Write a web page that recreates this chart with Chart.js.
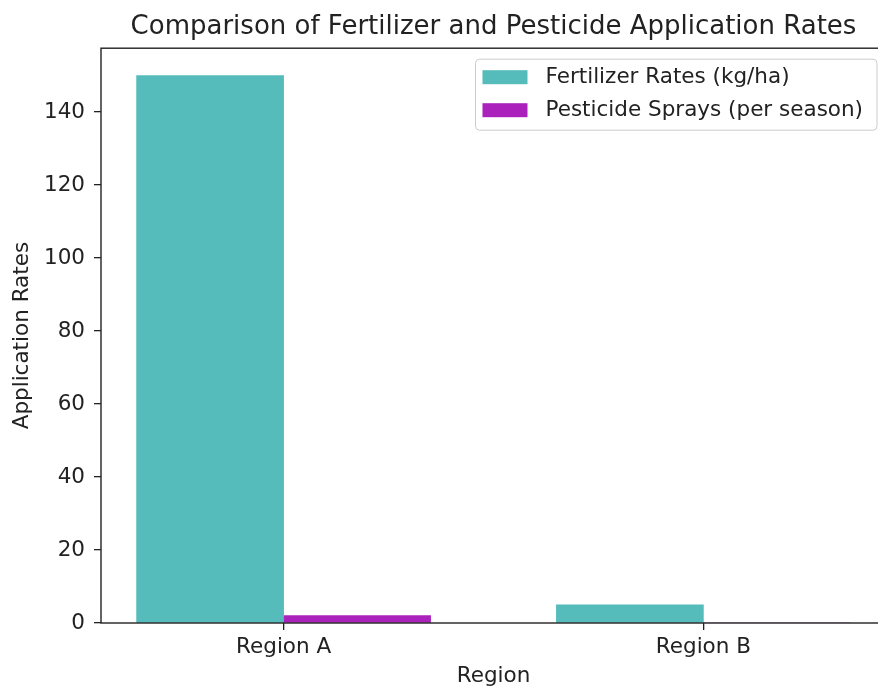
<!DOCTYPE html>
<html>
<head>
<meta charset="utf-8">
<script src="https://cdn.jsdelivr.net/npm/chart.js@4"></script>
<style>
  body { margin: 0; background: #fff; }
  #wrap { width: 878px; height: 687px; overflow: hidden; }
</style>
</head>
<body>
<div id="wrap"><canvas id="chart" width="900" height="700"></canvas></div>
<script>
// data
const regions = ["Region A", "Region B"];
const fertilizer = [150, 5];
const pesticide = [2, 0];
const yTicks = [0, 20, 40, 60, 80, 100, 120, 140];

const FONT = "'DejaVu Sans', sans-serif";
const INK = "#222222";

// matplotlib draws spines over the bars, so draw the frame last
const frame = {
  id: "frame",
  afterDatasetsDraw(chart) {
    const a = chart.chartArea, ctx = chart.ctx;
    ctx.save();
    ctx.strokeStyle = INK;
    ctx.lineWidth = 1.4;
    ctx.strokeRect(a.left, a.top, a.right - a.left, a.bottom - a.top);
    ctx.restore();
  }
};

// boxed legend in the upper right corner of the axes
const boxLegend = {
  id: "boxLegend",
  afterDraw(chart) {
    const a = chart.chartArea, ctx = chart.ctx;
    ctx.save();
    ctx.font = "21.5px " + FONT;
    const sets = chart.data.datasets;
    let tw = 0;
    sets.forEach(d => { tw = Math.max(tw, ctx.measureText(d.label).width); });
    const w = 7 + 45 + 18 + tw + 14;
    const right = a.right - 9, top = a.top + 11;
    const left = right - w, h = 71;
    ctx.beginPath();
    ctx.roundRect(left, top, w, h, 4);
    ctx.fillStyle = "rgba(255,255,255,0.8)";
    ctx.fill();
    ctx.strokeStyle = "#cccccc";
    ctx.lineWidth = 1;
    ctx.stroke();
    sets.forEach((d, i) => {
      const cy = top + 18 + i * 33;
      ctx.fillStyle = d.backgroundColor;
      ctx.fillRect(left + 7, cy - 7, 45, 14);
      ctx.fillStyle = INK;
      ctx.textBaseline = "middle";
      ctx.fillText(d.label, left + 70, cy);
    });
    ctx.restore();
  }
};

new Chart(document.getElementById("chart"), {
  type: "bar",
  data: {
    datasets: [
      {
        label: "Fertilizer Rates (kg/ha)",
        data: regions.map((r, i) => ({ x: i, y: fertilizer[i] })),
        backgroundColor: "#55BBBB",
        barThickness: 147,
      },
      {
        label: "Pesticide Sprays (per season)",
        data: regions.map((r, i) => ({ x: i, y: pesticide[i] })),
        backgroundColor: "#AA22BB",
        barThickness: 147,
      },
    ],
  },
  options: {
    responsive: false,
    animation: false,
    devicePixelRatio: 1,
    layout: { padding: { left: 0, right: 14, top: 0, bottom: 0 } },
    plugins: {
      legend: { display: false },
      tooltip: { enabled: false },
      title: {
        display: true,
        fullSize: false,
        text: "Comparison of Fertilizer and Pesticide Application Rates",
        color: INK,
        font: { family: FONT, size: 26, weight: "normal" },
        padding: { top: 12, bottom: 5 },
      },
    },
    scales: {
      x: {
        type: "linear",
        offset: false,
        min: -0.435,
        max: 1.435,
        afterFit: (s) => { s.height = 77; },
        afterBuildTicks: (s) => { s.ticks = regions.map((r, i) => ({ value: i })); },
        border: { display: false },
        grid: { offset: false, drawOnChartArea: false, drawTicks: true, tickLength: 7, color: INK, lineWidth: 1.3 },
        ticks: {
          color: INK,
          font: { family: FONT, size: 21.5 },
          padding: 5,
          maxRotation: 0,
          callback: (v) => regions[v],
        },
        title: {
          display: true,
          text: "Region",
          color: INK,
          font: { family: FONT, size: 21.5 },
          padding: { top: 0, bottom: 11 },
        },
      },
      y: {
        min: 0,
        max: 157.5,
        afterFit: (s) => { s.width = 101; },
        afterBuildTicks: (s) => { s.ticks = yTicks.map(v => ({ value: v })); },
        border: { display: false },
        grid: { drawOnChartArea: false, drawTicks: true, tickLength: 7, color: INK, lineWidth: 1.3 },
        ticks: {
          color: INK,
          font: { family: FONT, size: 21.5 },
          padding: 9,
        },
        title: {
          display: true,
          text: "Application Rates",
          color: INK,
          font: { family: FONT, size: 21.5 },
          padding: { top: 10, bottom: 0 },
        },
      },
    },
  },
  plugins: [frame, boxLegend],
});
</script>
</body>
</html>
